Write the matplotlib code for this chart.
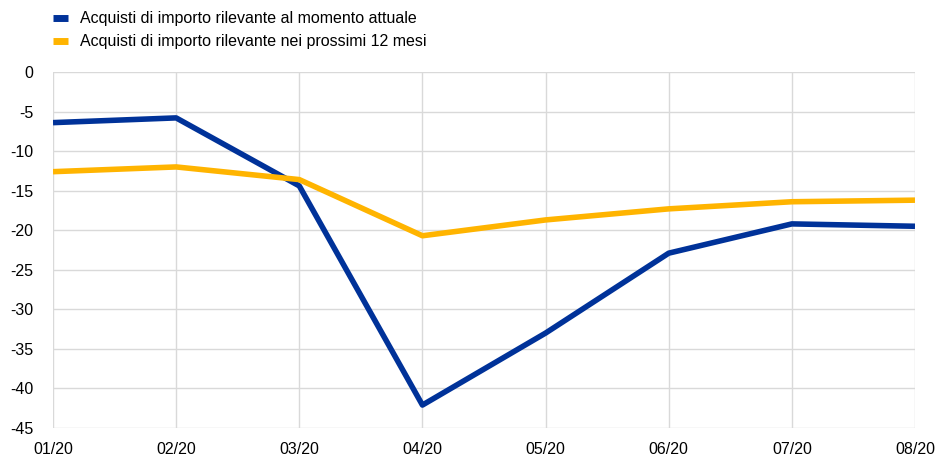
import matplotlib
matplotlib.use("Agg")
import matplotlib.pyplot as plt

# datos
months = ["01/20", "02/20", "03/20", "04/20", "05/20", "06/20", "07/20", "08/20"]
current = [-6.4, -5.8, -14.4, -42.1, -33.0, -22.9, -19.2, -19.5]
next12 = [-12.6, -12.0, -13.6, -20.7, -18.7, -17.3, -16.4, -16.2]
labels = ["Acquisti di importo rilevante al momento attuale",
          "Acquisti di importo rilevante nei prossimi 12 mesi"]

plt.rcParams["font.family"] = ["Liberation Sans", "DejaVu Sans"]
plt.rcParams["axes.unicode_minus"] = False

fig = plt.figure(figsize=(9.36, 4.57), dpi=100)
ax = fig.add_axes([53 / 936, 1 - 428 / 457, (915 - 53) / 936, (428 - 72) / 457])

x = list(range(len(months)))
ax.plot(x, current, color="#003299", lw=4, label=labels[0], solid_capstyle="butt")
ax.plot(x, next12, color="#FFB400", lw=4, label=labels[1], solid_capstyle="butt")

ax.set_xlim(0, len(months) - 1)
ax.set_ylim(-45, 0)
ax.set_yticks(range(-45, 1, 5))
ax.set_xticks(x)
ax.set_xticklabels(months)
ax.grid(True, color="#d9d9d9", lw=1)
ax.set_axisbelow(True)
for s in ax.spines.values():
    s.set_visible(False)
ax.tick_params(length=0, labelsize=11.5, colors="#000000")
ax.tick_params(axis="y", pad=14)
ax.tick_params(axis="x", pad=10)

leg = fig.legend(loc="upper left", bbox_to_anchor=(53 / 936, 1 - 11 / 457),
                 frameon=False, fontsize=11.5, handlelength=0.95, handleheight=0.6,
                 labelspacing=0.5, borderpad=0, borderaxespad=0, handletextpad=0.75)
for line in leg.get_lines():
    line.set_linewidth(5)

fig.savefig("out.png", dpi=100)
